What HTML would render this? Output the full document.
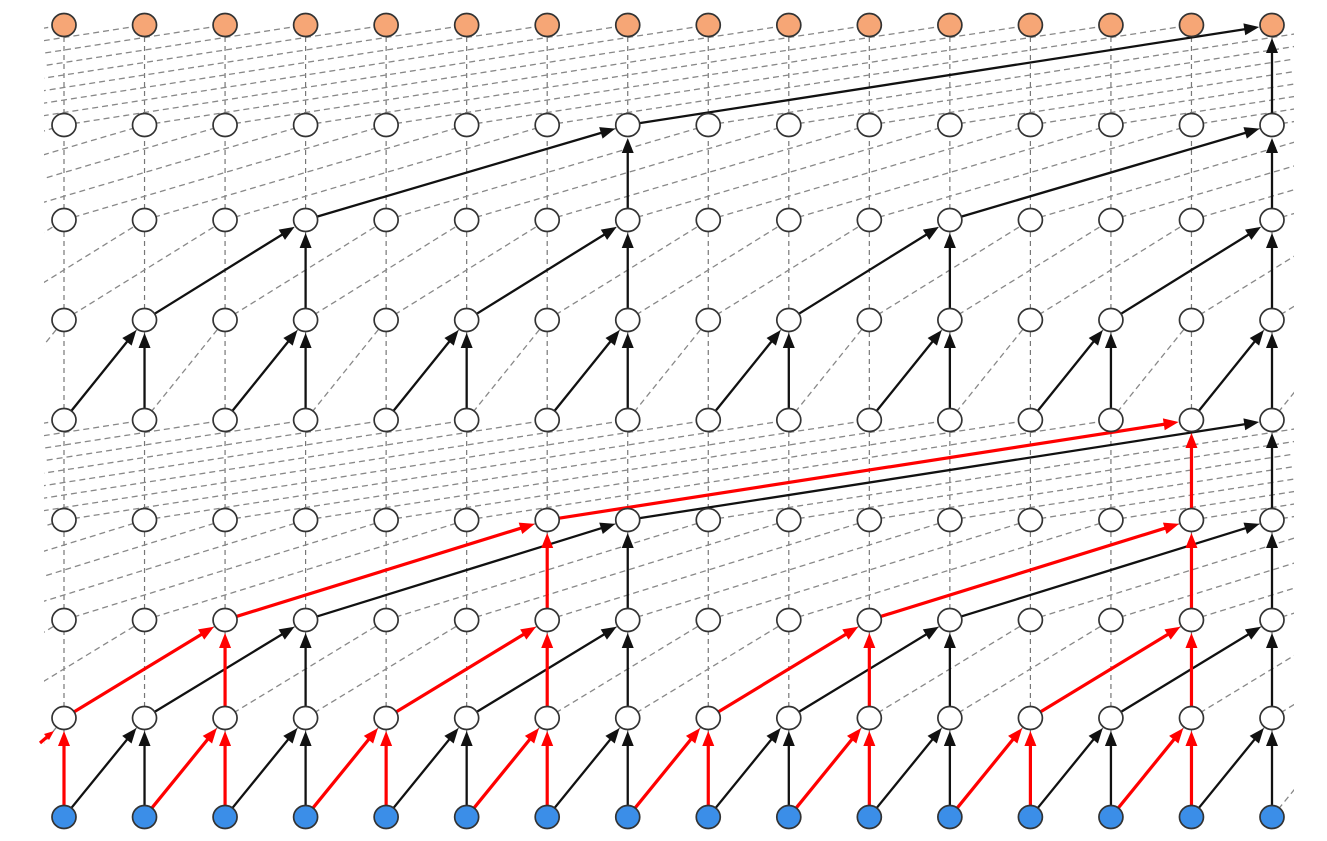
<!DOCTYPE html>
<html><head><meta charset="utf-8">
<style>html,body{margin:0;padding:0;background:#fff;}svg{display:block;font-family:"Liberation Sans",sans-serif;}</style>
</head><body>
<svg id="c" width="1327" height="841" viewBox="0 0 1327 841">
<defs><clipPath id="clip"><rect x="44" y="0" width="1250" height="841"/></clipPath></defs>
<g id="dash" clip-path="url(#clip)"></g>
<g id="edges"></g>
<g id="nodes"></g>
</svg>
<script>
const nCols = 16;
const rowY = [817, 718, 620, 520, 420, 320, 220, 125, 25];
const dilations = [1, 2, 4, 8, 1, 2, 4, 8];
const redEdges = [
  [1,0,'v'],[1,2,'v'],[1,2,'d'],[1,4,'v'],[1,4,'d'],[1,6,'v'],[1,6,'d'],
  [1,8,'v'],[1,8,'d'],[1,10,'v'],[1,10,'d'],[1,12,'v'],[1,12,'d'],[1,14,'v'],[1,14,'d'],
  [2,2,'v'],[2,2,'d'],[2,6,'v'],[2,6,'d'],[2,10,'v'],[2,10,'d'],[2,14,'v'],[2,14,'d'],
  [3,6,'v'],[3,6,'d'],[3,14,'v'],[3,14,'d'],
  [4,14,'v'],[4,14,'d']
];
const NS = 'http://www.w3.org/2000/svg';
const x0 = 64, x1 = 1272, R = 11;
function xs(i){ return x0 + (x1 - x0) * i / (nCols - 1); }
function mk(tag, attrs, parent){ const e = document.createElementNS(NS, tag); for (const k in attrs) e.setAttribute(k, attrs[k]); parent.appendChild(e); return e; }
const gD = document.getElementById('dash'), gE = document.getElementById('edges'), gN = document.getElementById('nodes');

function active(level, col){
  const d = dilations[level-1];
  const block = d * 2;
  if (level <= 4) {
    if (level === 1) return true;
    return (col % block) >= block - 2;
  } else {
    if (level === 5) return col % 2 === 1;
    return (col % block) === block - 1;
  }
}
function isRed(level, col, t){ return redEdges.some(e => e[0]===level && e[1]===col && e[2]===t); }

for (let L = 1; L < rowY.length; L++) {
  const d = dilations[L-1], ya = rowY[L-1], yb = rowY[L];
  for (let i = 0; i < nCols; i++) {
    const l = mk('line', {x1: xs(i), y1: ya - R, x2: xs(i), y2: yb + R, stroke: '#777', 'stroke-width': 1.2, 'stroke-dasharray': '5,4'}, gD);
    
    
  }
  for (let i = -d; i < nCols; i++) {
    const l = mk('line', {x1: xs(i), y1: ya, x2: xs(i + d), y2: yb, stroke: '#888', 'stroke-width': 1.3, 'stroke-dasharray': '6,4'}, gD);
    
    
  }
}

function arrow(xa, ya, xb, yb, color, w, trimStart){
  const dx = xb - xa, dy = yb - ya, len = Math.hypot(dx, dy), ux = dx/len, uy = dy/len;
  const ts = trimStart === undefined ? R + 1 : trimStart;
  const sx = xa + ux * ts, sy = ya + uy * ts;
  const ex = xb - ux * (R + 2), ey = yb - uy * (R + 2);
  const hl = 15, hw = 6;
  const bx = ex - ux * hl, by = ey - uy * hl;
  const g = mk('g', {}, gE);
  
  
  const col = color === 'red' ? '#f00' : '#111';
  if (Math.hypot(bx - sx, by - sy) > 2 && ((bx - sx) * ux + (by - sy) * uy) > 0)
    mk('line', {x1: sx, y1: sy, x2: bx + ux*2, y2: by + uy*2, stroke: col, 'stroke-width': w}, g);
  mk('polygon', {points: `${ex},${ey} ${bx - uy*hw},${by + ux*hw} ${bx + uy*hw},${by - ux*hw}`, fill: col}, g);
}

for (const pass of ['black','red']) {
  for (let L = 1; L < rowY.length; L++) {
    const d = dilations[L-1], ya = rowY[L-1], yb = rowY[L];
    for (let c = 0; c < nCols; c++) {
      if (!active(L, c)) continue;
      for (const t of ['v','d']) {
        const src = t === 'v' ? c : c - d;
        if (src < 0) continue;
        const red = isRed(L, c, t);
        if ((pass === 'red') !== red) continue;
        arrow(xs(src), ya, xs(c), yb, red ? 'red' : 'black', red ? 3.2 : 2.3);
      }
    }
  }
}
// off-left red stub into column 0, level 1
(function(){
  const g = mk('g', {}, gE);
  
  
  mk('line', {x1: 40, y1: 743, x2: 47, y2: 737, stroke: '#f00', 'stroke-width': 3.2}, g);
  mk('polygon', {points: '54,731 44,734 49,740', fill: '#f00'}, g);
})();

for (let L = 0; L < rowY.length; L++) {
  for (let i = 0; i < nCols; i++) {
    let fill = '#fff';
    if (L === 0) fill = '#3b8ee8';
    if (L === rowY.length - 1) fill = '#f6a676';
    const e = mk('ellipse', {cx: xs(i), cy: rowY[L], rx: 12, ry: 11.5, fill: fill, stroke: '#333', 'stroke-width': 1.7}, gN);
    
    
  }
}
</script>
</body></html>
